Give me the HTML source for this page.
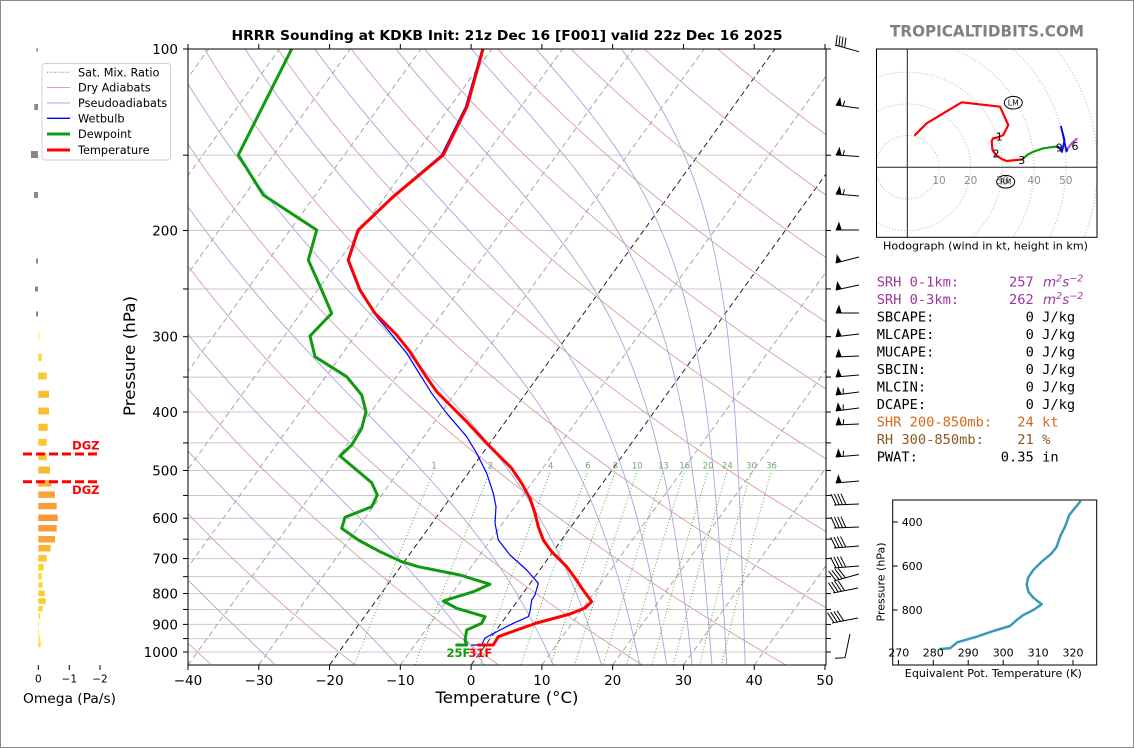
<!DOCTYPE html>
<html><head><meta charset="utf-8">
<style>
html,body{margin:0;padding:0;background:#fff;}
svg{display:block;}
text{font-family:"DejaVu Sans","Liberation Sans",sans-serif;}
.mono text{font-family:"DejaVu Sans Mono","Liberation Mono",monospace;font-size:13.7px;}
.mono text.it{font-family:"DejaVu Sans","Liberation Sans",sans-serif;font-style:italic;font-size:13.5px;}
</style></head>
<body>
<svg id="s" width="1134" height="748" viewBox="0 0 1134 748" xmlns="http://www.w3.org/2000/svg">
<rect x="0" y="0" width="1134" height="748" fill="#fff"/>
<rect x="0.5" y="0.5" width="1133" height="747" fill="none" stroke="#8a8a8a" stroke-width="1"/>
<defs>
<clipPath id="cm"><rect x="188" y="49" width="638" height="616"/></clipPath>
<clipPath id="ch"><rect x="876" y="49" width="221" height="188"/></clipPath>
</defs>

<!-- title -->
<text x="507" y="40" text-anchor="middle" font-size="13" font-weight="bold" textLength="551" lengthAdjust="spacingAndGlyphs">HRRR Sounding at KDKB Init: 21z Dec 16 [F001] valid 22z Dec 16 2025</text>

<!-- background thermodynamic lines (filled by script) -->
<g id="bg" clip-path="url(#cm)"></g>

<!-- data lines -->
<g clip-path="url(#cm)" fill="none" stroke-linejoin="round" stroke-linecap="round">
<polyline stroke="#0000ff" stroke-width="1.2" points="482,49 465.5,106.7 441.5,155 392,196.7 357.3,230 347.3,260 359,290 374,313.3 376.7,316.7 392,335 406.7,353.3 419,373 431.7,393.3 446.7,413.3 466.7,436.7 476.7,453.3 486.7,473.3 493.3,493.3 496,506.7 495,523.3 498.3,540 510,555 526.7,570 538.3,583.3 535,595 531.7,600 530,611.7 528.3,616.7 513.3,623.3 500,630 485,638 481.7,645 471.7,645"/>
<polyline stroke="#109a10" stroke-width="3" points="291.7,49 238.3,155 263.3,195 316.7,230 308.3,260 321.7,290 331.7,313.3 310,336 315,356.7 346.7,376.7 361.7,395 366,411.7 361.7,428.3 351.7,445 340,456 371.7,482.7 377.3,495 371.7,506.7 345,517.3 341.7,528.3 358.3,540 380,551.7 401.7,561.7 418.3,566.7 460,575 490,584.3 473.3,591.7 443.3,601 456.7,608.3 485,616.7 481.7,623.3 466.7,630 465,640 466.7,645 456.7,645"/>
<polyline stroke="#ff0000" stroke-width="3" points="483,49 467,106.7 443.3,155 393.3,196.7 358.3,230 348.3,260 360,290 375,313.3 396.7,335 410,351.7 425,375 436.7,391.7 450,405 466.7,421.7 486.7,443.3 500,456.7 511.7,468.3 521.7,483.3 530,498.3 535,513.3 538.3,526.7 543.3,540 551.7,551.7 566.7,566.7 575,578 581.7,588 591.7,601.7 585,608 570,614 536.7,623 516.7,630 498.3,636.7 493.3,645 478.3,645"/>
</g>
<text x="446.5" y="657" font-size="11.5" font-weight="bold" fill="#109a10">25F</text>
<text x="468.5" y="657" font-size="11.5" font-weight="bold" fill="#ff0000">31F</text>

<!-- main axes spines -->
<g stroke="#000" stroke-width="1" fill="none">
<line x1="188" y1="48.5" x2="188" y2="665.5"/>
<line x1="187.5" y1="665" x2="826.5" y2="665"/>
<line x1="187.5" y1="49" x2="826.5" y2="49"/>
<line x1="826" y1="48.5" x2="826" y2="665.5"/>
</g>
<g id="ticks" stroke="#000" stroke-width="1"></g>
<g id="tlab" font-size="13.5" fill="#000"></g>

<text x="507" y="703" text-anchor="middle" font-size="16" textLength="143" lengthAdjust="spacingAndGlyphs">Temperature (°C)</text>
<text transform="translate(135,356) rotate(-90)" text-anchor="middle" font-size="16" textLength="120" lengthAdjust="spacingAndGlyphs">Pressure (hPa)</text>

<!-- wind barbs -->
<g id="barbs" stroke="#000" stroke-width="1" fill="#000"></g>

<!-- omega panel -->
<g id="omega"></g>
<g stroke="#ff0000" stroke-width="3" stroke-dasharray="9,4">
<line x1="23" y1="454" x2="99" y2="454"/>
<line x1="23" y1="481.7" x2="99" y2="481.7"/>
</g>
<text x="99.5" y="449.5" text-anchor="end" font-size="11.5" font-weight="bold" fill="#ff0000">DGZ</text>
<text x="99.5" y="494" text-anchor="end" font-size="11.5" font-weight="bold" fill="#ff0000">DGZ</text>
<g stroke="#000" stroke-width="1">
<line x1="38.3" y1="665" x2="38.3" y2="670"/>
<line x1="69.3" y1="665" x2="69.3" y2="670"/>
<line x1="100" y1="665" x2="100" y2="670"/>
</g>
<text x="38.3" y="682.5" text-anchor="middle" font-size="10.5">0</text>
<text x="69.3" y="682.5" text-anchor="middle" font-size="10.5">−1</text>
<text x="100" y="682.5" text-anchor="middle" font-size="10.5">−2</text>
<text x="69.5" y="703" text-anchor="middle" font-size="13" textLength="93" lengthAdjust="spacingAndGlyphs">Omega (Pa/s)</text>

<!-- legend -->
<rect x="42" y="63.5" width="128.5" height="96.5" rx="3" fill="#fff" stroke="#d0d0d0" stroke-width="1"/>
<g fill="none">
<line x1="47" y1="72.3" x2="70" y2="72.3" stroke="#4a9e4a" stroke-width="1" stroke-dasharray="1,1.6"/>
<line x1="47" y1="87.5" x2="70" y2="87.5" stroke="#e0a0a0" stroke-width="1"/>
<line x1="47" y1="103" x2="70" y2="103" stroke="#a8a8e0" stroke-width="1"/>
<line x1="47" y1="118.3" x2="70" y2="118.3" stroke="#0000ff" stroke-width="1.3"/>
<line x1="47" y1="134" x2="70" y2="134" stroke="#109a10" stroke-width="3"/>
<line x1="47" y1="150" x2="70" y2="150" stroke="#ff0000" stroke-width="3"/>
</g>
<g font-size="11.3" fill="#000">
<text x="78" y="76.3">Sat. Mix. Ratio</text>
<text x="78" y="91.5">Dry Adiabats</text>
<text x="78" y="107">Pseudoadiabats</text>
<text x="78" y="122.3">Wetbulb</text>
<text x="78" y="138">Dewpoint</text>
<text x="78" y="154">Temperature</text>
</g>

<!-- brand -->
<text x="987" y="36.5" text-anchor="middle" font-size="16" font-weight="bold" fill="#808080" textLength="194" lengthAdjust="spacingAndGlyphs">TROPICALTIDBITS.COM</text>

<!-- hodograph -->
<g clip-path="url(#ch)">
<g id="rings" fill="none" stroke="#b0b0b0" stroke-width="0.9" stroke-dasharray="1,2"></g>
<line x1="907.3" y1="49" x2="907.3" y2="237" stroke="#222" stroke-width="1"/>
<line x1="876" y1="167.3" x2="1097" y2="167.3" stroke="#222" stroke-width="1"/>
<g font-size="10.5" fill="#8a8a8a" text-anchor="middle">
<text x="939" y="184">10</text><text x="970.7" y="184">20</text><text x="1002.4" y="184">30</text><text x="1034.1" y="184">40</text><text x="1065.8" y="184">50</text>
</g>
<g fill="none" stroke-width="2.2" stroke-linejoin="round" stroke-linecap="round">
<polyline stroke="#ff0000" points="915,135 926.7,123.3 961.7,102.3 1000,106.7 1008.3,125 1003.3,135 999,137 993,138.5 991.7,141 992.5,150 996,155 1001.7,159 1006.7,161 1016.7,160 1022,159.5"/>
<polyline stroke="#109a10" points="1022,159.5 1028,154.5 1033.3,151.7 1043.3,148.3 1055,146.7 1058.5,147"/>
<polyline stroke="#0000ff" points="1058.5,147 1062,152 1064.5,140 1061,126.5 1063,135 1066.5,151.5 1068,148" stroke-width="1.8"/>
<polyline stroke="#c050c0" points="1068,148 1072,143 1076.7,139"/>
</g>
<g font-size="11" fill="#000" text-anchor="middle">
<text x="999.3" y="140.7">1</text><text x="996" y="157.3">2</text><text x="1021.7" y="164">3</text><text x="1059.3" y="151.7">9</text><text x="1075" y="150">6</text>
</g>
<ellipse cx="1013.3" cy="102.7" rx="9" ry="6.3" fill="#fff" stroke="#000" stroke-width="1"/>
<text x="1013.3" y="105.6" text-anchor="middle" font-size="8" textLength="11" lengthAdjust="spacingAndGlyphs">LM</text>
<ellipse cx="1005.7" cy="181.7" rx="9" ry="6.3" fill="none" stroke="#000" stroke-width="1"/>
<text x="1005.7" y="184.6" text-anchor="middle" font-size="8" textLength="11" lengthAdjust="spacingAndGlyphs">RM</text>
</g>
<rect x="876.5" y="49" width="220.5" height="188.3" fill="none" stroke="#000" stroke-width="1"/>
<text x="985.5" y="249.5" text-anchor="middle" font-size="11" textLength="205" lengthAdjust="spacingAndGlyphs">Hodograph (wind in kt, height in km)</text>

<!-- stats -->
<g class="mono">
<text x="876.7" y="286.5" fill="#9e36a0">SRH 0-1km:</text><text x="1009" y="286.5" fill="#9e36a0">257</text>
<text class="it" x="1043" y="286.5" fill="#9e36a0">m<tspan dy="-5" font-size="9.5">2</tspan><tspan dy="5">s</tspan><tspan dy="-5" font-size="9.5">−2</tspan></text>
<text x="876.7" y="304" fill="#9e36a0">SRH 0-3km:</text><text x="1009" y="304" fill="#9e36a0">262</text>
<text class="it" x="1043" y="304" fill="#9e36a0">m<tspan dy="-5" font-size="9.5">2</tspan><tspan dy="5">s</tspan><tspan dy="-5" font-size="9.5">−2</tspan></text>
<text x="876.7" y="321.5">SBCAPE:</text><text x="1025.6" y="321.5">0</text><text x="1042.1" y="321.5">J/kg</text>
<text x="876.7" y="339">MLCAPE:</text><text x="1025.6" y="339">0</text><text x="1042.1" y="339">J/kg</text>
<text x="876.7" y="356.5">MUCAPE:</text><text x="1025.6" y="356.5">0</text><text x="1042.1" y="356.5">J/kg</text>
<text x="876.7" y="374">SBCIN:</text><text x="1025.6" y="374">0</text><text x="1042.1" y="374">J/kg</text>
<text x="876.7" y="391.5">MLCIN:</text><text x="1025.6" y="391.5">0</text><text x="1042.1" y="391.5">J/kg</text>
<text x="876.7" y="409">DCAPE:</text><text x="1025.6" y="409">0</text><text x="1042.1" y="409">J/kg</text>
<text x="876.7" y="426.5" fill="#d2691e">SHR 200-850mb:</text><text x="1017.3" y="426.5" fill="#d2691e">24</text><text x="1042.1" y="426.5" fill="#d2691e">kt</text>
<text x="876.7" y="444" fill="#8c5a1e">RH 300-850mb:</text><text x="1017.3" y="444" fill="#8c5a1e">21</text><text x="1042.1" y="444" fill="#8c5a1e">%</text>
<text x="876.7" y="461.5">PWAT:</text><text x="1000.8" y="461.5">0.35</text><text x="1042.1" y="461.5">in</text>
</g>

<!-- theta-e panel -->
<rect x="892.7" y="500" width="204" height="165" fill="none" stroke="#000" stroke-width="1"/>
<polyline fill="none" stroke="#3a9ab5" stroke-width="2.5" stroke-linejoin="round" points="940,649 950,648.3 957.3,642.3 976.7,636.7 993.3,631 1010,626 1016.7,620 1023.3,615 1033.3,610 1041.7,604.3 1033.3,597.7 1028.3,591.7 1026.7,584.3 1028.3,577.3 1033.3,570 1041.7,561.7 1051.7,553.3 1056.7,546.7 1060,536.7 1065,526.7 1069.3,515 1073.3,510 1080.7,501"/>
<g stroke="#000" stroke-width="1">
<line x1="892.7" y1="522" x2="897.7" y2="522"/>
<line x1="892.7" y1="566" x2="897.7" y2="566"/>
<line x1="892.7" y1="610" x2="897.7" y2="610"/>
<line x1="898.4" y1="665" x2="898.4" y2="660"/>
<line x1="933.3" y1="665" x2="933.3" y2="660"/>
<line x1="968.2" y1="665" x2="968.2" y2="660"/>
<line x1="1003.2" y1="665" x2="1003.2" y2="660"/>
<line x1="1038.1" y1="665" x2="1038.1" y2="660"/>
<line x1="1073" y1="665" x2="1073" y2="660"/>
</g>
<g font-size="11" fill="#000">
<text x="901.7" y="526">400</text><text x="901.7" y="570">600</text><text x="901.7" y="614">800</text>
</g>
<g font-size="11" fill="#000" text-anchor="middle">
<text x="898.8" y="656.7">270</text><text x="933.3" y="656.7">280</text><text x="968.2" y="656.7">290</text><text x="1003.2" y="656.7">300</text><text x="1038.1" y="656.7">310</text><text x="1073" y="656.7">320</text>
</g>
<text x="993.3" y="677" text-anchor="middle" font-size="10.5" textLength="177" lengthAdjust="spacingAndGlyphs">Equivalent Pot. Temperature (K)</text>
<text transform="translate(884.5,582) rotate(-90)" text-anchor="middle" font-size="10.5" textLength="79" lengthAdjust="spacingAndGlyphs">Pressure (hPa)</text>

<script>
(function(){
var NS='http://www.w3.org/2000/svg';
function el(parent,tag,attrs,txt){var e=document.createElementNS(NS,tag);for(var k in attrs)e.setAttribute(k,attrs[k]);if(txt!=null)e.textContent=txt;parent.appendChild(e);return e;}
function pts(a){return a.map(function(p){return p[0].toFixed(2)+','+p[1].toFixed(2);}).join(' ');}
function yP(p){return 652+603*Math.log10(p/1000);}
function xT(T,y){return 471.1+7.078*T+0.723*(665-y);}
var bg=document.getElementById('bg');
// gridlines
for(var p=150;p<=1000;p+=50){var y=yP(p);el(bg,'line',{x1:188,x2:826,y1:y,y2:y,stroke:'#c8c8c8','stroke-width':1});}
// isotherms
for(var T=-110;T<=50;T+=10){
  var dark=(T===0||T===-20);
  el(bg,'line',{x1:xT(T,665),y1:665,x2:xT(T,49),y2:49,stroke:dark?'#222':'#a6a6a6','stroke-width':1,'stroke-dasharray':'5.5,3.5'});
}
// dry adiabats
var P=[];for(var i=0;i<=80;i++)P.push(1050*Math.pow(100/1050,i/80));
for(var th=-40;th<=200;th+=20){
  var a=P.map(function(p){var y=yP(p);return [xT((th+273.15)*Math.pow(p/1000,0.28571)-273.15,y),y];});
  el(bg,'polyline',{points:pts(a),fill:'none',stroke:'#dc9e9e','stroke-width':0.9});
}
// moist adiabats
function es(Tc){return 6.112*Math.exp(17.67*Tc/(Tc+243.5));}
function f(p,T){var e=es(T-273.15);var rs=0.622*e/(p-e);return ((287.04749*T+2.501e6*rs)/(1004.6662+2.501e6*2.501e6*rs*0.622/(287.04749*T*T)))/p;}
[-27.7,-10.5,1.8,11.6,18.4,23.8,27.6,31.2,34.0,36.1,38.7].forEach(function(t0){
  var T=t0+273.15,p=1050,h=-5;var a=[[xT(t0,yP(p)),yP(p)]];
  while(p>100.01){var k1=f(p,T),k2=f(p+h/2,T+h/2*k1),k3=f(p+h/2,T+h/2*k2),k4=f(p+h,T+h*k3);T+=h/6*(k1+2*k2+2*k3+k4);p+=h;var y=yP(p);a.push([xT(T-273.15,y),y]);}
  el(bg,'polyline',{points:pts(a),fill:'none',stroke:'#a6a6de','stroke-width':0.9});
});
// mixing ratio
[1,2,4,6,8,10,13,16,20,24,30,36].forEach(function(w){
  function td(p){var e=p*(w/1000)/(0.622+w/1000);var l=Math.log(e/6.112);return 243.5*l/(17.67-l);}
  var a=[];for(var i=0;i<=24;i++){var p=505+(1050-505)*i/24;var y=yP(p);a.push([xT(td(p),y),y]);}
  el(bg,'polyline',{points:pts(a),fill:'none',stroke:'#5aa55a','stroke-width':1,'stroke-dasharray':'1,2.2'});
  var y5=yP(500);
  el(bg,'text',{x:xT(td(500),y5).toFixed(1),y:468.5,'text-anchor':'middle','font-size':8.5,fill:'#6aaa6a'},String(w));
});
// ticks and labels
var tk=document.getElementById('ticks'),tl=document.getElementById('tlab');
for(var p=100;p<=1000;p+=50){var y=yP(p);el(tk,'line',{x1:183,x2:188,y1:y,y2:y});el(tk,'line',{x1:826,x2:831,y1:y,y2:y});}
for(var p=100;p<=1000;p+=100){var y=yP(p);el(tl,'text',{x:178,y:(y+5).toFixed(1),'text-anchor':'end'},String(p));}
for(var T=-40;T<=50;T+=10){var x=471.1+7.078*T;el(tk,'line',{x1:x,x2:x,y1:665,y2:670});el(tk,'line',{x1:x,x2:x,y1:44,y2:49});
  el(tl,'text',{x:x.toFixed(1),y:685,'text-anchor':'middle'},(T<0?'\u2212':'')+Math.abs(T));}
// omega bars
var om=document.getElementById('omega');
[[50,36.3,3],[107,34.3,6],[154.5,31,7],[195,34,6],[261,36,5],[289,35,5],[314,36,5]].forEach(function(b){
  el(om,'rect',{x:b[1],y:b[0]-b[2]/2,width:38-b[1],height:b[2],fill:'#888'});});
[[336,39.3],[357.3,41.7],[376,46.7],[394.3,49],[411,49],[427.3,47.7],[442.3,46.7],[456.7,46.7],[470,50],[483.3,51.7],[494.7,55],[506,56.7],[517.7,57.7],[528.3,56.7],[539.3,55],[548.3,50.7],[558.3,46.7],[567.3,43.7],[576.3,41.7],[585,42.7],[593.3,44.7],[601,45.7],[608.7,42.7],[616,40],[623.3,39],[631.7,39],[638.3,39.7],[644.3,40.7]].forEach(function(b){
  var L=b[1]-38.3;var t=Math.min(1,L/20);
  var r=Math.round(255-8*t),g=Math.round(232-82*t),bl=Math.round(38+22*t);
  var h=b[0]<480?7:(b[0]<580?6.5:5.5);
  el(om,'rect',{x:38.3,y:(b[0]-h/2).toFixed(1),width:L.toFixed(1),height:h,fill:'rgb('+r+','+g+','+bl+')'});
});
// hodograph rings
var rg=document.getElementById('rings');
for(var k=1;k<=7;k++)el(rg,'circle',{cx:907.3,cy:167.3,r:(31.7*k).toFixed(1)});
// barbs
var bb=document.getElementById('barbs');
function barb(xl,yl,xr,yr,type){
  el(bb,'line',{x1:xl,y1:yl,x2:xr,y2:yr,fill:'none'});
  var dx=xr-xl,dy=yr-yl,L=Math.sqrt(dx*dx+dy*dy);var ux=dx/L,uy=dy/L;var nx=uy,ny=-ux;
  function P(a,b){return [xl+a*ux+b*nx,yl+a*uy+b*ny];}
  if(type==='F'||type==='Fh'){
    el(bb,'polygon',{points:pts([P(0,0),P(6,0),P(3.3,8.5)]),stroke:'none'});
    if(type==='Fh')el(bb,'line',{x1:P(7.5,0)[0],y1:P(7.5,0)[1],x2:P(8.3,5.5)[0],y2:P(8.3,5.5)[1],fill:'none'});
  } else if(type==='T'){
    for(var i=0;i<4;i++){var a=P(1+3*i,0),b=P(-0.5+3*i,10);el(bb,'line',{x1:a[0],y1:a[1],x2:b[0],y2:b[1],fill:'none'});}
  } else if(type==='B'){
    for(var i=0;i<4;i++){var a=P(2+3.3*i,0),b=P(-2.5+3.3*i,11);el(bb,'line',{x1:a[0],y1:a[1],x2:b[0],y2:b[1],fill:'none'});}
  }
}
barb(835,45,859,51.7,'T');
barb(835.7,105,859,108.3,'Fh');
barb(835.7,155,859,156.5,'Fh');
barb(835.7,194,859,196,'Fh');
barb(835.7,230,859,230,'F');
barb(835.7,263,859,257,'F');
barb(835.7,290,859,285,'F');
barb(835.7,313,859,313,'F');
barb(835.7,336.7,859,334,'F');
barb(835.7,357,859,356,'F');
barb(835.7,377,859,375,'F');
barb(835.7,395,859,392,'Fh');
barb(835.7,411,859,408,'Fh');
barb(835.7,425,859,424,'Fh');
barb(835.7,457,859,455,'Fh');
barb(835.7,483,859,481,'F');
barb(834,505,859,504,'B');
barb(834,528,859,527,'B');
barb(834,548,859,546,'B');
barb(834,568,859,566,'B');
barb(834,581,859,574,'B');
barb(833,593,858,588,'B');
barb(832,623,858,618,'B');
el(bb,'polyline',{points:'835,658.3 845,657.7 850,634',fill:'none'});
})();
</script>
</svg>
</body></html>
